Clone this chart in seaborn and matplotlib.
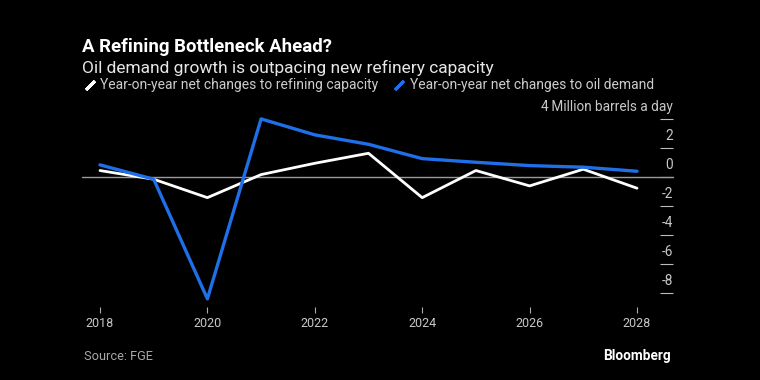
import numpy as np
import pandas as pd
import matplotlib
matplotlib.use("Agg")
import matplotlib.pyplot as plt
import seaborn as sns
from matplotlib.lines import Line2D
from matplotlib import transforms

# dane (mln baryłek dziennie)
years = list(range(2018, 2029))
refining = [0.44, -0.16, -1.43, 0.16, 0.94, 1.63, -1.43, 0.44, -0.62, 0.53, -0.78]
demand = [0.83, -0.16, -8.41, 4.0, 2.9, 2.25, 1.26, 1.01, 0.78, 0.67, 0.39]
series_names = ["Year-on-year net changes to refining capacity",
                "Year-on-year net changes to oil demand"]
series_colors = ["#ffffff", "#1f6fe8"]
y_ticks = [-8, -6, -4, -2, 0, 2, 4]
y_labels = ["-8", "-6", "-4", "-2", "0", "2", "4\u2009Million barrels a day"]
x_ticks = [2018, 2020, 2022, 2024, 2026, 2028]

df = pd.DataFrame({"year": years, series_names[0]: refining, series_names[1]: demand})
long_df = df.melt(id_vars="year", var_name="series", value_name="value")

sns.set_theme(style="dark", rc={"axes.facecolor": "black", "figure.facecolor": "black"})
plt.rcParams["font.family"] = ["Roboto", "DejaVu Sans"]

W, H = 760, 380
fig = plt.figure(figsize=(W / 100, H / 100), dpi=100)
ax = fig.add_axes([82 / W, 1 - 307 / H, 591 / W, 191 / H])

# linia zerowa pod seriami
ax.axhline(0, color="#9a9a9a", lw=1, zorder=1)

sns.lineplot(data=long_df, x="year", y="value", hue="series",
             palette=dict(zip(series_names, series_colors)),
             ax=ax, legend=False, zorder=3)
ax.lines[1].set_linewidth(2.0)
ax.lines[2].set_linewidth(2.4)
for ln in ax.lines:
    ln.set_clip_on(False)

ax.set_xlim(2017.665, 2028.67)
ax.set_ylim(-8.97, 4.2)
ax.set_xlabel("")
ax.set_ylabel("")
ax.grid(False)
for s in ax.spines.values():
    s.set_visible(False)

ax.set_xticks(x_ticks)
ax.set_xticklabels([str(x) for x in x_ticks])
ax.tick_params(axis="x", bottom=True, direction="out", length=4.3, width=0.8,
               color="#aaaaaa", labelcolor="#c8c8c8", labelsize=9, pad=3)

ax.set_yticks(y_ticks)
ax.tick_params(axis="y", left=False, right=True, direction="in", length=9.4,
               width=0.8, color="#bbbbbb", labelleft=False, labelright=False)

# etykiety osi Y nad kreskami, wyrównane do prawej
trans = transforms.blended_transform_factory(ax.transAxes, ax.transData)
off = transforms.ScaledTranslation(0, 8 / 100, fig.dpi_scale_trans)
for v, lab in zip(y_ticks, y_labels):
    ax.text(1.0, v, lab, transform=trans + off, ha="right", va="baseline",
            fontsize=9.8, color="#c8c8c8")

# tytuły
fig.text(82 / W, 1 - 47 / H, "A Refining Bottleneck Ahead?", fontsize=13.4,
         fontweight="bold", color="white", va="center", ha="left")
fig.text(82 / W, 1 - 68 / H, "Oil demand growth is outpacing new refinery capacity",
         fontsize=12.5, color="#e6e6e6", va="center", ha="left")

handles = [Line2D([], [], color=c, marker=(2, 2, -45), linestyle="none",
                  markersize=9, markeredgewidth=2.2) for c in series_colors]
leg = fig.legend(handles, series_names, loc="center left",
                 bbox_to_anchor=(83 / W, 1 - 85.5 / H), ncol=2, frameon=False,
                 fontsize=10, labelcolor="#cccccc", handlelength=1.0,
                 handletextpad=0.25, columnspacing=1.0, borderaxespad=0, borderpad=0)

fig.text(84 / W, 1 - 357 / H, "Source: FGE", fontsize=9.2, color="#a8a8a8",
         va="center", ha="left")
fig.text(671 / W, 1 - 356 / H, "Bloomberg", fontsize=9.8, fontweight="bold",
         color="white", va="center", ha="right")

fig.savefig("out.png", dpi=100, facecolor="black")
